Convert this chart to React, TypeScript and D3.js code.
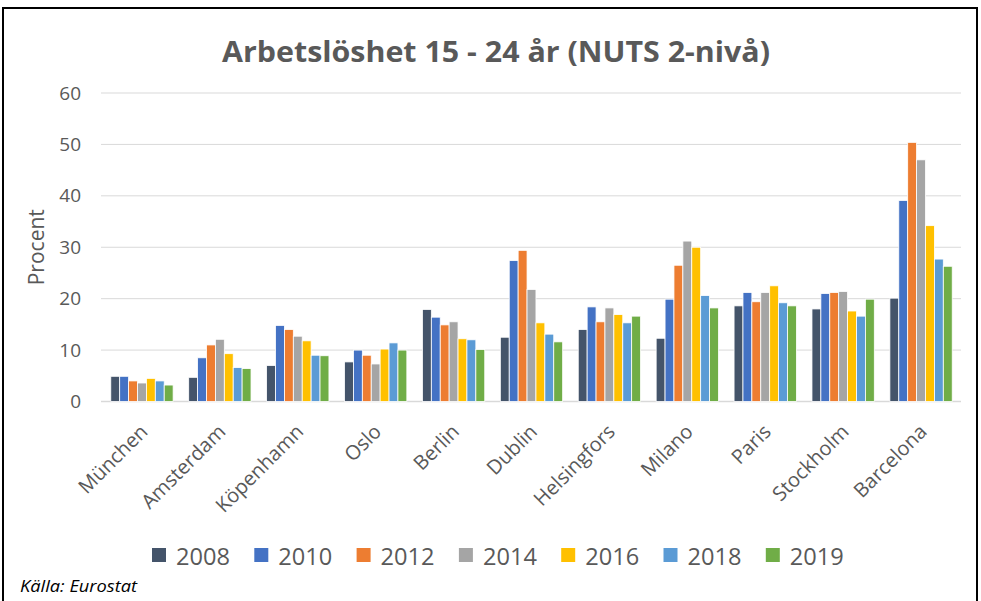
import React from "react";
import * as d3 from "d3";

const categories = ["München", "Amsterdam", "Köpenhamn", "Oslo", "Berlin", "Dublin", "Helsingfors", "Milano", "Paris", "Stockholm", "Barcelona"];
const years = ["2008", "2010", "2012", "2014", "2016", "2018", "2019"];
const v2008 = [4.9, 4.7, 7.0, 7.7, 17.9, 12.5, 14.0, 12.3, 18.6, 18.0, 20.1];
const v2010 = [4.9, 8.5, 14.8, 10.0, 16.4, 27.4, 18.4, 19.9, 21.2, 21.0, 39.1];
const v2012 = [4.0, 11.0, 14.0, 9.0, 14.9, 29.4, 15.5, 26.5, 19.4, 21.2, 50.4];
const v2014 = [3.6, 12.1, 12.7, 7.3, 15.5, 21.8, 18.2, 31.2, 21.2, 21.4, 47.0];
const v2016 = [4.5, 9.3, 11.8, 10.2, 12.2, 15.3, 16.9, 30.0, 22.5, 17.6, 34.2];
const v2018 = [4.0, 6.6, 9.0, 11.4, 12.0, 13.1, 15.3, 20.6, 19.2, 16.6, 27.7];
const v2019 = [3.2, 6.4, 8.9, 10.0, 10.1, 11.6, 16.6, 18.2, 18.6, 19.9, 26.3];
const seriesValues = [v2008, v2010, v2012, v2014, v2016, v2018, v2019];
const colors = ["#44546A", "#4472C4", "#ED7D31", "#A5A5A5", "#FFC000", "#5B9BD5", "#70AD47"];
const yTicks = [0, 10, 20, 30, 40, 50, 60];

const W = 981;
const H = 601;
const FONT = "'Open Sans', sans-serif";
const GREY = "#595959";

export default function App() {
  const x0 = d3.scaleBand<string>().domain(categories).range([103, 960]).paddingInner(0.2).paddingOuter(0.1);
  const x1 = d3.scaleBand<string>().domain(years).range([0, x0.bandwidth()]).padding(0);
  const y = d3.scaleLinear().domain([0, 60]).range([401.5, 93]);

  const legendX0 = 152;
  const legendStep = 102.3;

  return (
    <svg width={W} height={H} style={{ position: "absolute", left: 0, top: 0, background: "#fff" }}>
      <rect x={0} y={0} width={W} height={H} fill="#fff" />
      <rect x={3} y={8} width={974} height={620} fill="none" stroke="#000" strokeWidth={2} />
      <text x={496} y={62} textAnchor="middle" fontFamily={FONT} fontWeight="bold" fontSize={28} fill={GREY} textLength={548} lengthAdjust="spacingAndGlyphs">
        Arbetslöshet 15 - 24 år (NUTS 2-nivå)
      </text>
      {yTicks.map((t) => (
        <g key={t}>
          <line x1={101} x2={961} y1={y(t)} y2={y(t)} stroke="#D9D9D9" strokeWidth={t === 0 ? 1.5 : 1} />
          <text x={81} y={y(t)} dy="0.35em" textAnchor="end" fontFamily={FONT} fontSize={19} fill={GREY}>
            {t}
          </text>
        </g>
      ))}
      <text transform={`translate(44,${y(30)}) rotate(-90)`} textAnchor="middle" fontFamily={FONT} fontSize={21} fill={GREY}>
        Procent
      </text>
      {categories.map((c, ci) => (
        <g key={c} transform={`translate(${x0(c)},0)`}>
          {years.map((yr, si) => {
            const v = seriesValues[si][ci];
            return (
              <rect
                key={yr}
                x={x1(yr)!}
                y={y(v)}
                width={x1.bandwidth()}
                height={y(0) - y(v)}
                fill={colors[si]}
                stroke="#fff"
                strokeWidth={0.8}
              />
            );
          })}
        </g>
      ))}
      {categories.map((c) => {
        const cx = x0(c)! + x0.bandwidth() / 2;
        return (
          <text key={c} transform={`translate(${cx + 2},${428}) rotate(-45)`} textAnchor="end" dy="0.35em" fontFamily={FONT} fontSize={20} fill={GREY}>
            {c}
          </text>
        );
      })}
      {years.map((yr, i) => (
        <g key={yr} transform={`translate(${legendX0 + i * legendStep},0)`}>
          <rect x={0} y={548} width={14} height={14} fill={colors[i]} />
          <text x={24} y={556} dy="0.36em" fontFamily={FONT} fontSize={24} fill={GREY} textLength={54} lengthAdjust="spacingAndGlyphs">
            {yr}
          </text>
        </g>
      ))}
      <text x={20} y={592} fontFamily={FONT} fontStyle="italic" fontSize={16} fill="#000" textLength={117} lengthAdjust="spacingAndGlyphs">
        Källa: Eurostat
      </text>
    </svg>
  );
}
